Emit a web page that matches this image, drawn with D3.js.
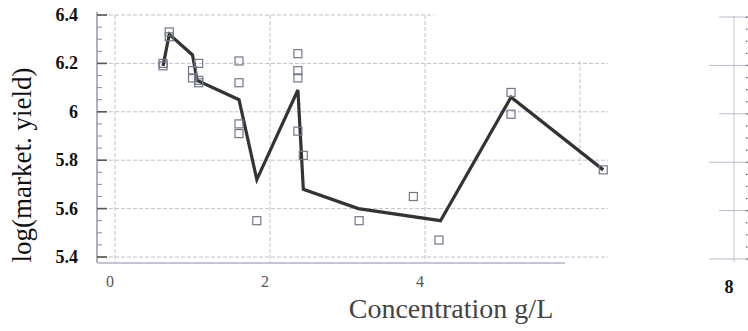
<!DOCTYPE html>
<html>
<head>
<meta charset="utf-8">
<script src="https://cdn.jsdelivr.net/npm/d3@7"></script>
<style>
  body { margin: 0; background: #fff; }
  svg { display: block; font-family: "Liberation Serif", "DejaVu Serif", serif; }
</style>
</head>
<body>
<svg id="chart" width="748" height="331"></svg>
<script>
// observed points (concentration g/L, log yield)
var pointX = [0.62, 0.62, 0.70, 0.70, 1.00, 1.00, 1.08, 1.08, 1.08,
              1.60, 1.60, 1.60, 1.60, 1.83, 2.36, 2.36, 2.36, 2.36, 2.43,
              3.15, 3.85, 4.18, 5.11, 5.11, 6.30];
var pointY = [6.20, 6.19, 6.33, 6.31, 6.17, 6.14, 6.20, 6.13, 6.12,
              6.21, 6.12, 5.95, 5.91, 5.55, 6.24, 6.17, 6.14, 5.92, 5.82,
              5.55, 5.65, 5.47, 6.08, 5.99, 5.76];
// fitted line
var lineX = [0.62, 0.70, 1.00, 1.06, 1.60, 1.83, 2.36, 2.43, 3.14, 4.20, 5.11, 6.30];
var lineY = [6.19, 6.32, 6.235, 6.13, 6.05, 5.72, 6.09, 5.68, 5.60, 5.55, 6.06, 5.76];

var yTicks = [5.4, 5.6, 5.8, 6.0, 6.2, 6.4];
var yMinor = d3.range(5.4, 6.401, 0.05);
var xTicks = [0, 2, 4, 6];
var xTickLabels = [0, 2, 4];

var svg = d3.select("#chart");

var x = d3.scaleLinear().domain([0, 8]).range([115, 735]);
var y = d3.scaleLinear().domain([5.4, 6.4]).range([257, 15]);

var axisLeft = 97, gridRight = 608;

// horizontal dashed grid
svg.append("g").selectAll("line")
  .data(yTicks)
  .enter().append("line")
    .attr("x1", axisLeft)
    .attr("x2", function(d) { return d === 6.4 ? 434 : gridRight; })
    .attr("y1", function(d) { return y(d); })
    .attr("y2", function(d) { return y(d); })
    .attr("stroke", "#c0c3d0")
    .attr("stroke-width", 1)
    .attr("stroke-dasharray", "4,2");

// vertical dashed grid
svg.append("g").selectAll("line")
  .data(xTicks)
  .enter().append("line")
    .attr("x1", function(d) { return x(d); })
    .attr("x2", function(d) { return x(d); })
    .attr("y1", function(d) { return d === 6 ? y(6.21) : y(6.4); })
    .attr("y2", function(d) { return d === 6 ? y(5.78) : 262; })
    .attr("stroke", "#c0c3d0")
    .attr("stroke-width", 1)
    .attr("stroke-dasharray", "4,2");

// left axis line + ticks
svg.append("line")
  .attr("x1", axisLeft).attr("x2", axisLeft)
  .attr("y1", 12).attr("y2", 263)
  .attr("stroke", "#9397ab").attr("stroke-width", 1.5);

svg.append("g").selectAll("line")
  .data(yMinor)
  .enter().append("line")
    .attr("x1", axisLeft)
    .attr("x2", function(d, i) { return i % 4 === 0 ? axisLeft + 10 : axisLeft + 5; })
    .attr("y1", function(d) { return y(d); })
    .attr("y2", function(d) { return y(d); })
    .attr("stroke", function(d, i) { return i % 4 === 0 ? "#555" : "#8a8ea0"; })
    .attr("stroke-width", function(d, i) { return i % 4 === 0 ? 1.6 : 1; });

// y tick labels
svg.append("g").selectAll("text")
  .data(yTicks)
  .enter().append("text")
    .attr("x", 78)
    .attr("y", function(d) { return y(d) + 6; })
    .attr("text-anchor", "end")
    .attr("font-size", 18)
    .attr("font-weight", "bold")
    .attr("fill", "#111")
    .text(function(d) { return d3.format("~g")(d); });

// bottom axis line
svg.append("line")
  .attr("x1", axisLeft).attr("x2", 565)
  .attr("y1", 263).attr("y2", 263)
  .attr("stroke", "#c4c6d2").attr("stroke-width", 2);

// x tick labels
svg.append("g").selectAll("text")
  .data(xTickLabels)
  .enter().append("text")
    .attr("x", function(d) { return x(d) - 5; })
    .attr("y", 287)
    .attr("text-anchor", "middle")
    .attr("font-size", 16)
    .attr("fill", "#555")
    .text(function(d) { return d; });

// right-hand axis fragment (next panel)
var rx = x(8) - 1;
svg.append("line")
  .attr("x1", rx).attr("x2", rx)
  .attr("y1", 16).attr("y2", 262)
  .attr("stroke", "#c4c6d2").attr("stroke-width", 1);
svg.append("g").selectAll("line")
  .data(yTicks)
  .enter().append("line")
    .attr("x1", function(d, i) { return i % 2 === 0 ? rx - 25 : rx - 15; })
    .attr("x2", rx + 14)
    .attr("y1", function(d) { return y(d) + 2; })
    .attr("y2", function(d) { return y(d) + 2; })
    .attr("stroke", "#b9bccb").attr("stroke-width", 1);
svg.append("g").selectAll("rect")
  .data(yMinor)
  .enter().append("rect")
    .attr("x", rx + 12)
    .attr("y", function(d) { return y(d) + 1.5; })
    .attr("width", 1.5).attr("height", 1.2)
    .attr("fill", "#555");
svg.append("text")
  .attr("x", x(8) - 6)
  .attr("y", 293)
  .attr("text-anchor", "middle")
  .attr("font-size", 18)
  .attr("font-weight", "bold")
  .attr("fill", "#111")
  .text("8");

// fitted line
var line = d3.line()
  .x(function(d) { return x(d[0]); })
  .y(function(d) { return y(d[1]); });
svg.append("path")
  .datum(d3.zip(lineX, lineY))
  .attr("d", line)
  .attr("fill", "none")
  .attr("stroke", "#333")
  .attr("stroke-width", 3.2)
  .attr("stroke-linejoin", "miter");

// square markers
svg.append("g").selectAll("rect")
  .data(d3.zip(pointX, pointY))
  .enter().append("rect")
    .attr("x", function(d) { return x(d[0]) - 4; })
    .attr("y", function(d) { return y(d[1]) - 4; })
    .attr("width", 8)
    .attr("height", 8)
    .attr("fill", "none")
    .attr("stroke", "#72778a")
    .attr("stroke-width", 1.2);

// axis titles
svg.append("text")
  .attr("transform", "translate(31,165) rotate(-90)")
  .attr("text-anchor", "middle")
  .attr("font-size", 27)
  .attr("fill", "#111")
  .text("log(market. yield)");

svg.append("text")
  .attr("x", 451)
  .attr("y", 318)
  .attr("text-anchor", "middle")
  .attr("font-size", 28)
  .attr("fill", "#444")
  .text("Concentration g/L");
</script>
</body>
</html>
